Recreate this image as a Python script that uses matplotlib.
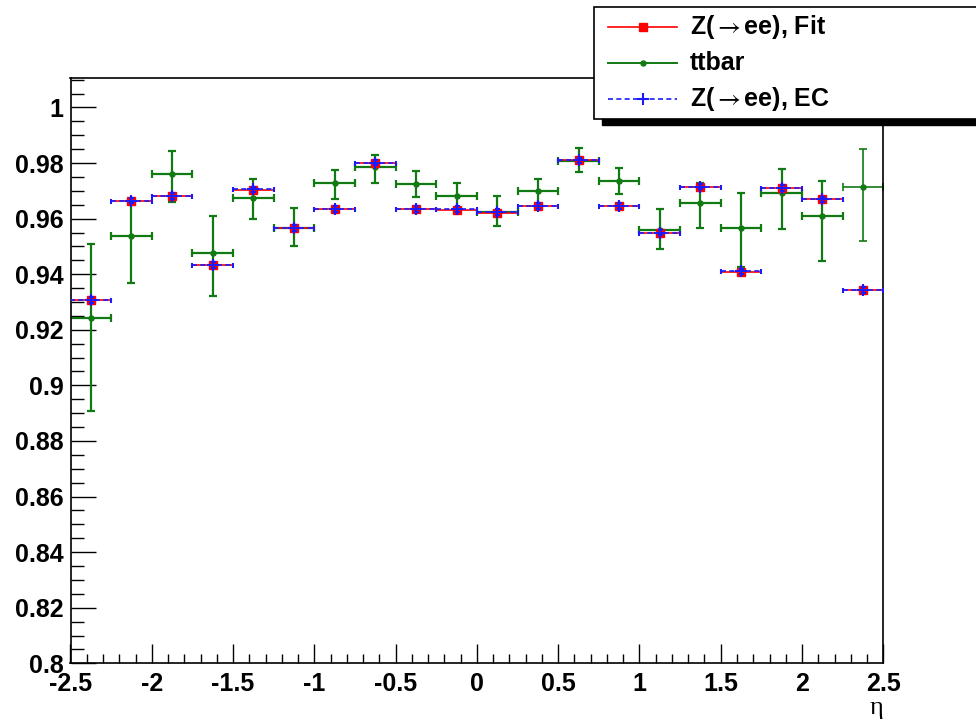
import numpy as np
import matplotlib.pyplot as plt
from matplotlib.patches import Rectangle
from matplotlib.lines import Line2D
from matplotlib.ticker import MultipleLocator

# eta bins (20 bins from -2.5 to 2.5)
eta_edges = np.linspace(-2.5, 2.5, 21)
eta = 0.5 * (eta_edges[:-1] + eta_edges[1:])
half_width = 0.5 * np.diff(eta_edges)

# Z(->ee), Fit
fit_eff = [0.9307, 0.9664, 0.9682, 0.9433, 0.9704, 0.9567, 0.9633, 0.9802, 0.9633, 0.9631,
           0.9622, 0.9646, 0.9810, 0.9646, 0.9549, 0.9714, 0.9409, 0.9709, 0.9669, 0.9343]
fit_err = [0.0006] * 20

# ttbar
tt_eff = [0.9241, 0.9537, 0.9761, 0.9477, 0.9676, 0.9568, 0.9727, 0.9786, 0.9725, 0.9682,
          0.9624, 0.9700, 0.9807, 0.9737, 0.9559, 0.9658, 0.9567, 0.9691, 0.9609, 0.9714]
tt_up = [0.0266, 0.0127, 0.0084, 0.0132, 0.0065, 0.0071, 0.0047, 0.0042, 0.0047, 0.0048,
         0.0058, 0.0042, 0.0046, 0.0047, 0.0074, 0.0069, 0.0127, 0.0087, 0.0127, 0.0136]
tt_dn = [0.0332, 0.0168, 0.0101, 0.0156, 0.0079, 0.0068, 0.0058, 0.0056, 0.0047, 0.0049,
         0.0051, 0.0055, 0.0038, 0.0049, 0.0070, 0.0091, 0.0140, 0.0129, 0.0162, 0.0195]

# Z(->ee), EC
ec_eff = [0.9308, 0.9665, 0.9682, 0.9434, 0.9705, 0.9567, 0.9634, 0.9802, 0.9634, 0.9634,
          0.9623, 0.9646, 0.9810, 0.9646, 0.9550, 0.9715, 0.9410, 0.9710, 0.9669, 0.9344]
ec_err = [0.0010] * 20

xticks = [-2.5, -2, -1.5, -1, -0.5, 0, 0.5, 1, 1.5, 2, 2.5]
xtick_labels = ['-2.5', '-2', '-1.5', '-1', '-0.5', '0', '0.5', '1', '1.5', '2', '2.5']
yticks = [0.8, 0.82, 0.84, 0.86, 0.88, 0.9, 0.92, 0.94, 0.96, 0.98, 1.0]
ytick_labels = ['0.8', '0.82', '0.84', '0.86', '0.88', '0.9', '0.92', '0.94', '0.96', '0.98', '1']

legend_labels = [r'Z($\rightarrow$ee), Fit', 'ttbar', r'Z($\rightarrow$ee), EC']

red = '#ff0000'
green = '#127a12'
blue = '#1a1aff'
font = ['Liberation Sans', 'DejaVu Sans']

fig = plt.figure(figsize=(9.76, 7.21), dpi=100)
W, H = 976, 721
ax = fig.add_axes([70.5 / W, 1 - 663.3 / H, (883.3 - 70.5) / W, (663.3 - 78.3) / H])

tt_eff = np.array(tt_eff)
yerr_tt = np.array([tt_dn, tt_up])
# ttbar: all bins but the last drawn thick, last bin thinner
ax.errorbar(eta[:-1], tt_eff[:-1], xerr=half_width[:-1], yerr=yerr_tt[:, :-1], fmt='o',
            color=green, ms=3.6, lw=1.6, capsize=2.6, capthick=1.6, zorder=2)
ax.errorbar(eta[-1:], tt_eff[-1:], xerr=half_width[-1:], yerr=yerr_tt[:, -1:], fmt='o',
            color=green, ms=3.6, lw=1.2, capsize=2.6, capthick=1.2, zorder=2)

ax.errorbar(eta, fit_eff, xerr=half_width, yerr=fit_err, fmt='s', color=red,
            ms=5.5, lw=1.2, capsize=0, zorder=3)
eb = ax.errorbar(eta, ec_eff, xerr=half_width, yerr=ec_err, fmt='+', color=blue,
                 ms=8, mew=1.5, lw=1.2, capsize=1.8, capthick=1.2, zorder=4)
eb[2][0].set_linestyle((0, (3, 2)))

ax.set_xlim(-2.5, 2.5)
ax.set_ylim(0.8, 1.0105)
ax.set_xticks(xticks)
ax.set_xticklabels(xtick_labels)
ax.set_yticks(yticks)
ax.set_yticklabels(ytick_labels)
ax.xaxis.set_minor_locator(MultipleLocator(0.1))
ax.yaxis.set_minor_locator(MultipleLocator(0.005))
ax.tick_params(axis='x', which='major', direction='in', length=13.7, width=1.0, pad=6)
ax.tick_params(axis='x', which='minor', direction='in', length=6.8, width=1.0)
ax.tick_params(axis='y', which='major', direction='in', length=18, width=1.0, pad=5)
ax.tick_params(axis='y', which='minor', direction='in', length=9.4, width=1.0)
for lab in ax.get_xticklabels() + ax.get_yticklabels():
    lab.set_family(font)
    lab.set_fontweight('bold')
    lab.set_fontsize(18)
for sp in ax.spines.values():
    sp.set_linewidth(1.2)

ax.text(1.0, -0.058, '\u03b7', transform=ax.transAxes, ha='right', va='top',
        fontsize=19, family=['Liberation Serif', 'DejaVu Serif'])

# legend box drawn in pixel coordinates on an overlay
lax = fig.add_axes([0, 0, 1, 1], zorder=10)
lax.set_xlim(0, W)
lax.set_ylim(H, 0)
lax.axis('off')
lax.add_patch(Rectangle((602, 13), 400, 112, facecolor='black', edgecolor='black'))
lax.add_patch(Rectangle((594, 7), 400, 112, facecolor='white', edgecolor='black', lw=1.2))
rows = [27, 63, 99]
styles = [dict(color=red, marker='s', ms=5.5, lw=1.2),
          dict(color=green, marker='o', ms=3.6, lw=1.4),
          dict(color=blue, marker='+', ms=9, mew=1.5, lw=1.2, ls=(0, (3, 2)))]
for yy, lab, st in zip(rows, legend_labels, styles):
    lax.add_line(Line2D([608, 677], [yy, yy], **{k: v for k, v in st.items() if k not in ('marker', 'ms', 'mew')}))
    lax.add_line(Line2D([643], [yy], ls='none', color=st['color'], marker=st['marker'],
                        ms=st['ms'], mew=st.get('mew', 1.0)))
    lax.text(690, yy, lab, ha='left', va='center', fontsize=18, fontweight='bold',
             family=font, math_fontfamily='stix')

fig.savefig('out.png', dpi=100)
